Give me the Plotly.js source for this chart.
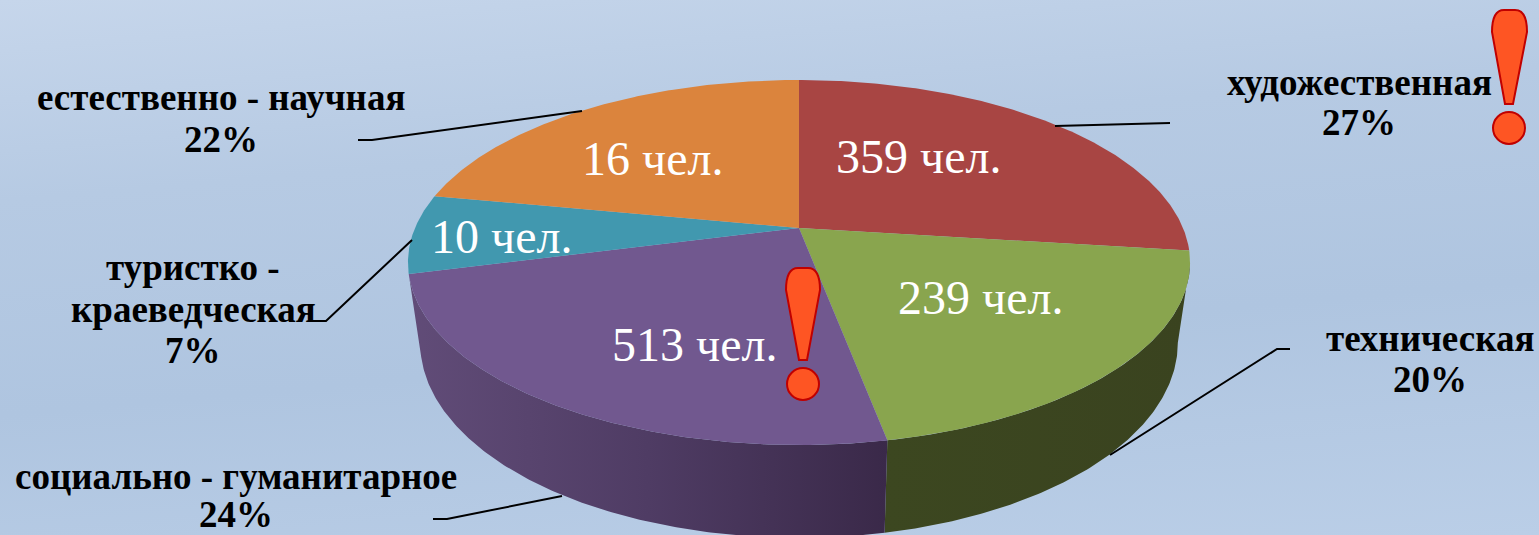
<!DOCTYPE html>
<html><head><meta charset="utf-8">
<script src="https://cdn.plot.ly/plotly-3.0.1.min.js"></script>
<style>
html,body{margin:0;padding:0;width:1539px;height:535px;overflow:hidden;
background:linear-gradient(175deg,#c6d6eb 0%,#b6cae3 30%,#afc5e0 62%,#bacee7 100%);}
#chart{width:1539px;height:535px;}
</style></head><body><div id="chart"></div>
<script>
// ---- data (clockwise from 12 o'clock) ----
var categories = ["художественная","техническая","социально - гуманитарное","туристко - краеведческая","естественно - научная"];
var shares = [27, 20, 24, 7, 22];
var counts = [359, 239, 513, 10, 16];
var sliceColors = ["#a84543","#89a54e","#71588f","#4198af","#db843d"];

// ---- perspective projection of the disc ----
var CX=799, PERSP=0.189;
var TOP={ax:384, ay:176, apex:228}, BOTTOM={ax:372, ay:188, apex:306};
function rim(deg, face){
  var t=deg*Math.PI/180, s=Math.sin(t), c=Math.cos(t), d=1+PERSP*c;
  return [CX+face.ax*s/d, face.apex-face.ay*c/d];
}
function arc(a,b,face){
  var pts=[], n=Math.max(2,Math.ceil(Math.abs(b-a)*2));
  for(var i=0;i<=n;i++) pts.push(rim(a+(b-a)*i/n,face));
  return pts;
}
var total=shares.reduce(function(p,v){return p+v;},0), edges=[0];
shares.forEach(function(v,i){edges.push(edges[i]+v/total*360);});

var traces=[];
function poly(pts,extra){
  var t={type:"scatter",mode:"lines",x:pts.map(function(p){return p[0];}),y:pts.map(function(p){return p[1];}),
    fill:"toself",line:{width:0},hoverinfo:"skip",showlegend:false};
  for(var k in extra)t[k]=extra[k];
  traces.push(t);
}
// side walls: technical and social slices face the viewer
var RIGHT_TANGENT=100.9;
function wall(a,b,grad){
  poly(arc(a,b,TOP).concat(arc(b,a,BOTTOM)),{fillgradient:{type:"horizontal",colorscale:grad}});
}
wall(RIGHT_TANGENT,edges[2],[[0,"#3c4720"],[1,"#3a431f"]]);
wall(edges[2],edges[3],[[0,"#614c78"],[0.5,"#4f3c64"],[1,"#3a2949"]]);
// top faces
shares.forEach(function(v,i){
  poly([[CX,TOP.apex]].concat(arc(edges[i],edges[i+1],TOP)),{fillcolor:sliceColors[i]});
});
// leader lines
var leaders=[
  [[1055,126],[1170,123]],
  [[1110,455],[1277,349],[1290,349]],
  [[562,496],[447,519],[433,519]],
  [[412,240],[326,321],[311,321]],
  [[582,111],[372,140],[358,140]]
];
leaders.forEach(function(l){
  traces.push({type:"scatter",mode:"lines",x:l.map(function(p){return p[0];}),y:l.map(function(p){return p[1];}),
    line:{color:"#000",width:2},hoverinfo:"skip",showlegend:false});
});

// ---- text ----
var SERIF='"Liberation Serif","Times New Roman",serif';
var annotations=[];
function txt(t,x,y,size,color,bold){
  annotations.push({text:bold?"<b>"+t+"</b>":t,x:x,y:y,xref:"x",yref:"y",xanchor:"center",yanchor:"middle",
    showarrow:false,font:{family:SERIF,size:size,color:color}});
}
var labelLines=[["художественная"],["техническая"],["социально - гуманитарное"],["туристко -","краеведческая"],["естественно - научная"]];
var labelPlace=[[1359,[82,122]],[1430,[338,379]],[236,[476,514]],[193,[267,309,350]],[221,[97,139]]];
var countPlace=[[918,156],[980,297],[694,344],[501,236],[652,158]];
shares.forEach(function(v,i){
  var lines=labelLines[i].concat([v+"%"]), p=labelPlace[i];
  lines.forEach(function(s,j){txt(s,p[0],p[1][j],37,"#000",true);});
  txt(counts[i]+" чел.",countPlace[i][0],countPlace[i][1],48,"#fff",false);
});

// ---- exclamation marks ----
var shapes=[];
function mark(l,r,top,tipL,tipR,tipY,dx,dy,rad){
  var f="#fe5523", e="#c00000";
  shapes.push({type:"path",xref:"x",yref:"y",fillcolor:f,line:{color:e,width:2},layer:"above",
    path:"M"+tipL+","+tipY+" L"+l+","+(top+22)+" Q"+l+","+top+" "+(l+12)+","+top+
         " L"+(r-12)+","+top+" Q"+r+","+top+" "+r+","+(top+22)+" L"+tipR+","+tipY+" Z"});
  shapes.push({type:"circle",xref:"x",yref:"y",fillcolor:f,line:{color:e,width:2},layer:"above",
    x0:dx-rad,x1:dx+rad,y0:dy-rad,y1:dy+rad});
}
mark(1492,1527,10,1505,1513,104,1509,128,16);
mark(786,820,268,799,807,360,803,384,16);

Plotly.newPlot("chart",traces,{
  width:1539,height:535,margin:{l:0,r:0,t:0,b:0},
  paper_bgcolor:"rgba(0,0,0,0)",plot_bgcolor:"rgba(0,0,0,0)",showlegend:false,
  xaxis:{range:[0,1539],visible:false,fixedrange:true},
  yaxis:{range:[535,0],visible:false,fixedrange:true},
  annotations:annotations,shapes:shapes
},{displayModeBar:false,staticPlot:true});
</script></body></html>
